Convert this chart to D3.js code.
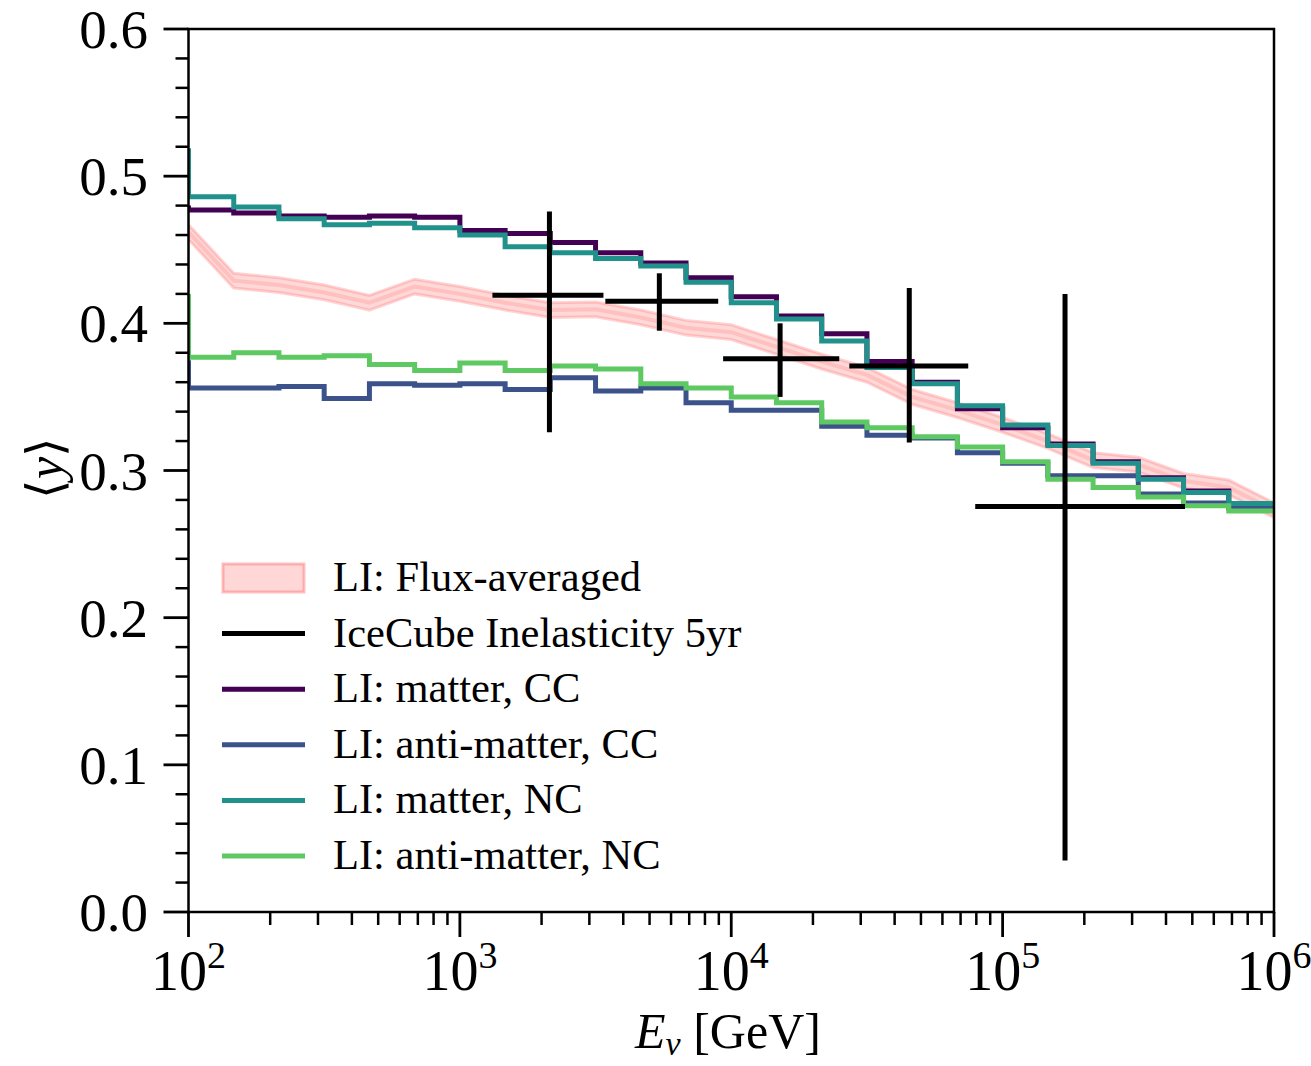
<!DOCTYPE html>
<html><head><meta charset="utf-8">
<script src="https://cdn.jsdelivr.net/npm/d3@7"></script>
<style>body{margin:0;background:#fff;} svg{display:block;} text{font-family:"Liberation Serif","Times New Roman",serif;fill:#000;}</style>
</head><body>
<svg id="c" width="1311" height="1066"></svg>
<script>
// Bin edges (GeV)
const edges = [100, 146.8, 215.4, 316.2, 464.2, 681.3, 1000, 1468, 2154, 3162, 4642, 6813, 10000, 14678, 21544, 31623, 46416, 68129, 100000, 146780, 215443, 316228, 464159, 681292, 1000000];
// Step series: value at edge 0 is the start stub, value i (i>=1) holds over bin (edge i-1, edge i)
const matterCC = [0.480, 0.477, 0.475, 0.473, 0.472, 0.473, 0.472, 0.463, 0.461, 0.455, 0.448, 0.441, 0.431, 0.418, 0.405, 0.393, 0.374, 0.360, 0.342, 0.329, 0.318, 0.306, 0.295, 0.286, 0.2755];
const antiCC   = [0.375, 0.356, 0.356, 0.357, 0.349, 0.359, 0.358, 0.359, 0.355, 0.363, 0.354, 0.356, 0.346, 0.341, 0.341, 0.330, 0.324, 0.322, 0.312, 0.305, 0.2965, 0.2965, 0.284, 0.278, 0.2745];
const matterNC = [0.519, 0.486, 0.479, 0.471, 0.467, 0.468, 0.465, 0.460, 0.452, 0.448, 0.444, 0.439, 0.428, 0.414, 0.403, 0.388, 0.370, 0.359, 0.344, 0.331, 0.317, 0.305, 0.294, 0.285, 0.2775];
const antiNC   = [0.420, 0.377, 0.380, 0.377, 0.378, 0.372, 0.368, 0.373, 0.368, 0.371, 0.369, 0.359, 0.356, 0.350, 0.346, 0.333, 0.329, 0.323, 0.316, 0.306, 0.294, 0.2885, 0.282, 0.276, 0.2725];
// Flux-averaged (values at edges)
const fluxAvg  = [0.462, 0.429, 0.426, 0.421, 0.414, 0.425, 0.420, 0.414, 0.409, 0.4095, 0.404, 0.397, 0.394, 0.384, 0.374, 0.365, 0.350, 0.341, 0.331, 0.320, 0.307, 0.304, 0.293, 0.2885, 0.273];
const fluxHalfWidth = 0.005;
// IceCube inelasticity 5yr
const iceE    = [2138, 5433, 15136, 45290, 169800];
const iceElo  = [1318, 3436, 9333, 27230, 79250];
const iceEhi  = [3381, 8953, 25000, 74700, 470000];
const iceY    = [0.419, 0.415, 0.376, 0.371, 0.2755];
const iceYlo  = [0.326, 0.395, 0.350, 0.319, 0.035];
const iceYhi  = [0.476, 0.434, 0.400, 0.424, 0.420];

const yTicks = [0.0, 0.1, 0.2, 0.3, 0.4, 0.5, 0.6];
const xTickExps = [2, 3, 4, 5, 6];

const legendLabels = ["LI: Flux-averaged", "IceCube Inelasticity 5yr", "LI: matter, CC", "LI: anti-matter, CC", "LI: matter, NC", "LI: anti-matter, NC"];
const colors = {matterCC:"#440154", antiCC:"#3b528b", matterNC:"#21918c", antiNC:"#5ec962", ice:"#000000", flux:"#ff9a9a"};

const svg = d3.select("#c");
const L = 188.5, R = 1274, T = 29, B = 912;
const x = d3.scaleLog().domain([1e2, 1e6]).range([L, R]);
const y = d3.scaleLinear().domain([0, 0.6]).range([B, T]);

const g = svg.append("g");
svg.append("defs").append("clipPath").attr("id","pc").append("rect")
  .attr("x",L).attr("y",T).attr("width",R-L).attr("height",B-T);
const plot = g.append("g").attr("clip-path","url(#pc)");

// flux band
const area = d3.area().x((d,i)=>x(edges[i])).y0(d=>y(d-fluxHalfWidth)).y1(d=>y(d+fluxHalfWidth));
plot.append("path").datum(fluxAvg).attr("d",area)
  .attr("fill","rgba(255,110,110,0.27)").attr("stroke","rgba(255,110,110,0.30)").attr("stroke-width",3);
const mid = d3.line().x((d,i)=>x(edges[i])).y(d=>y(d));
plot.append("path").datum(fluxAvg).attr("d",mid).attr("fill","none")
  .attr("stroke","rgba(255,110,110,0.22)").attr("stroke-width",4);

// step lines
const step = d3.line().x((d,i)=>x(edges[i])).y(d=>y(d)).curve(d3.curveStepBefore);
[["matterCC",matterCC],["antiCC",antiCC],["matterNC",matterNC],["antiNC",antiNC]].forEach(([k,arr])=>{
  plot.append("path").datum(arr).attr("d",step).attr("fill","none")
    .attr("stroke",colors[k]).attr("stroke-width",5);
});

// IceCube error crosses
const ice = g.append("g");
iceE.forEach((e,i)=>{
  ice.append("line").attr("x1",x(iceElo[i])).attr("x2",x(iceEhi[i])).attr("y1",y(iceY[i])).attr("y2",y(iceY[i]))
    .attr("stroke","#000").attr("stroke-width",5);
  ice.append("line").attr("x1",x(e)).attr("x2",x(e)).attr("y1",y(iceYlo[i])).attr("y2",y(iceYhi[i]))
    .attr("stroke","#000").attr("stroke-width",5);
});

// frame
g.append("rect").attr("x",L).attr("y",T).attr("width",R-L).attr("height",B-T)
  .attr("fill","none").attr("stroke","#000").attr("stroke-width",2.5);

// y axis ticks
const yMinor = d3.range(0, 0.6001, 0.02).filter(v=>Math.abs(Math.round(v*10)-v*10)>1e-6);
yMinor.forEach(v=>{
  g.append("line").attr("x1",L-13).attr("x2",L).attr("y1",y(v)).attr("y2",y(v)).attr("stroke","#000").attr("stroke-width",2.5);
});
yTicks.forEach(v=>{
  g.append("line").attr("x1",L-25).attr("x2",L).attr("y1",y(v)).attr("y2",y(v)).attr("stroke","#000").attr("stroke-width",2.8);
  g.append("text").attr("x",148).attr("y",y(v)+19).attr("text-anchor","end")
    .attr("font-size",55).text(v.toFixed(1));
});

// x axis ticks
for (let p=2;p<6;p++){
  for (let m=2;m<10;m++){
    const v=m*Math.pow(10,p);
    g.append("line").attr("x1",x(v)).attr("x2",x(v)).attr("y1",B).attr("y2",B+13).attr("stroke","#000").attr("stroke-width",2.5);
  }
}
xTickExps.forEach(p=>{
  const xv = x(Math.pow(10,p));
  g.append("line").attr("x1",xv).attr("x2",xv).attr("y1",B).attr("y2",B+25).attr("stroke","#000").attr("stroke-width",2.8);
  const t = g.append("text").attr("x",xv).attr("y",990).attr("text-anchor","middle").attr("font-size",56);
  t.append("tspan").text("10");
  t.append("tspan").attr("dy",-22).attr("font-size",38).text(String(p));
});

// axis labels
const xl = g.append("text").attr("x",728).attr("y",1048).attr("text-anchor","middle").attr("font-size",50);
xl.append("tspan").attr("font-style","italic").text("E");
xl.append("tspan").attr("font-style","italic").attr("font-size",34).attr("dy",7).text("ν");
xl.append("tspan").attr("dy",-7).text(" [GeV]");
g.append("text").attr("transform","translate(62,468) rotate(-90)").attr("text-anchor","middle").attr("font-size",50)
  .html('⟨<tspan font-style="italic">y</tspan>⟩');

// legend
const leg = g.append("g");
const ly0 = 578, ldy = 55.6;
const legKeys = ["flux","ice","matterCC","antiCC","matterNC","antiNC"];
legKeys.forEach((k,i)=>{
  const cy = ly0 + i*ldy;
  if (k==="flux"){
    leg.append("rect").attr("x",223).attr("y",cy-14).attr("width",81).attr("height",28)
      .attr("fill","rgba(255,110,110,0.28)").attr("stroke","rgba(255,110,110,0.45)").attr("stroke-width",3);
  } else {
    leg.append("line").attr("x1",222).attr("x2",305).attr("y1",cy).attr("y2",cy)
      .attr("stroke",colors[k]).attr("stroke-width",5);
  }
  leg.append("text").attr("x",333).attr("y",cy+13).attr("font-size",42.5).text(legendLabels[i]);
});
</script>
</body></html>
